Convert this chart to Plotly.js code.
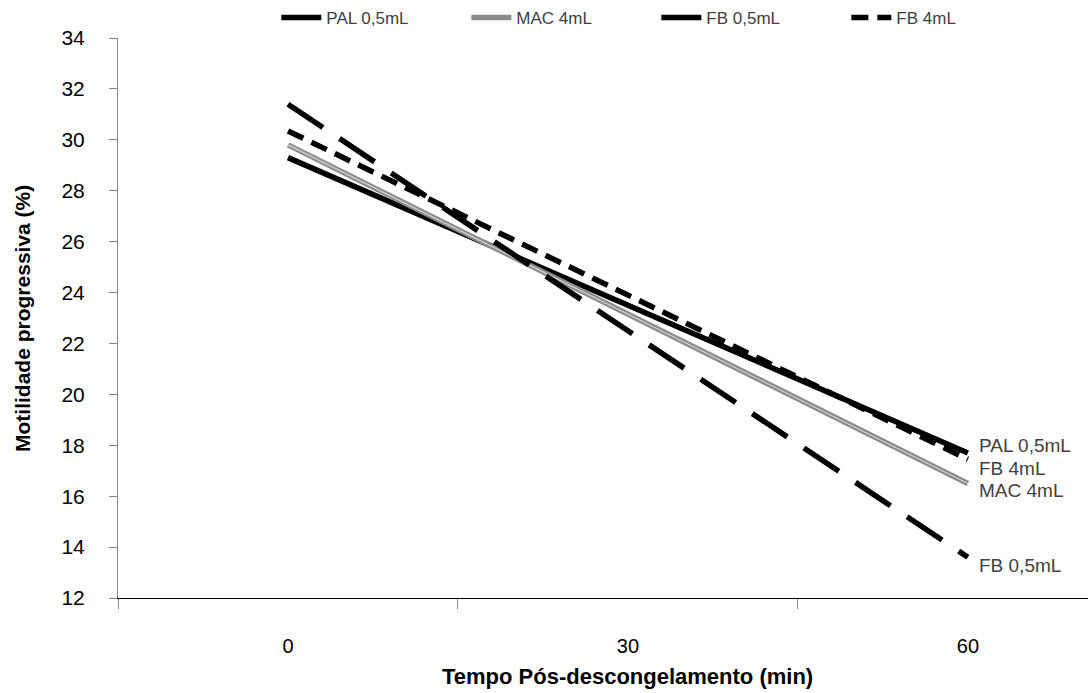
<!DOCTYPE html>
<html>
<head>
<meta charset="utf-8">
<script src="https://cdn.plot.ly/plotly-3.0.1.min.js"></script>
<style>html,body{margin:0;padding:0;background:#fff;}#chart{width:1088px;height:693px;}</style>
</head>
<body>
<div id="chart"></div>
<script>
const times = [0, 60];
const tickLabels = ['0', '30', '60'];
const tickPositions = [0, 30, 60];
const seriesNames = ['PAL 0,5mL', 'MAC 4mL', 'FB 0,5mL', 'FB 4mL'];
const palValues = [29.3, 17.7];
const macValues = [29.8, 16.5];
const fb05Values = [31.4, 13.6];
const fb4Values = [30.35, 17.45];
const labelShifts = [7, -7, -8, -9];

const FONT = 'Liberation Sans, Arial, sans-serif';
const traces = [
  {x: times, y: palValues, name: seriesNames[0], mode: 'lines',
   line: {color: '#000000', width: 5.5}},
  {x: times, y: macValues, name: seriesNames[1], mode: 'lines',
   line: {color: '#8c8c8c', width: 5.5}},
  {x: times, y: fb05Values, name: seriesNames[2], mode: 'lines',
   line: {color: '#000000', width: 5.5, dash: '42px,20px'}},
  {x: times, y: fb4Values, name: seriesNames[3], mode: 'lines',
   line: {color: '#000000', width: 5.5, dash: '17px,9px'}}
];
// thin light stripe inside MAC line to mimic the striped grey look
traces.splice(2, 0, {x: times, y: macValues, mode: 'lines', showlegend: false, hoverinfo: 'skip',
  line: {color: '#d0d0d0', width: 1.2}});

const endValues = [palValues[1], macValues[1], fb05Values[1], fb4Values[1]];
const annotations = seriesNames.map((n, i) => ({
  x: times[1], y: endValues[i], xref: 'x', yref: 'y', text: n, showarrow: false,
  xanchor: 'left', yanchor: 'middle', xshift: 9, yshift: labelShifts[i],
  font: {family: FONT, size: 19, color: '#404040'}
}));
annotations.push({
  x: -0.099, y: 0.5, xref: 'paper', yref: 'paper', text: '<b>Motilidade progressiva (%)</b>',
  textangle: -90, showarrow: false, xanchor: 'center', yanchor: 'middle',
  font: {family: FONT, size: 21, color: '#000'}
});
annotations.push({
  x: 30, y: -0.141, xref: 'x', yref: 'paper', text: '<b>Tempo Pós-descongelamento (min)</b>',
  showarrow: false, xanchor: 'center', yanchor: 'middle',
  font: {family: FONT, size: 22, color: '#000'}
});

const xr = [-15, 70.6];
const layout = {
  width: 1088, height: 693,
  margin: {l: 118, r: 0, t: 38, b: 95},
  paper_bgcolor: '#fff', plot_bgcolor: '#fff',
  showlegend: true,
  legend: {orientation: 'h', x: 0.555, xanchor: 'center', y: 1.036, yanchor: 'middle',
    font: {family: FONT, size: 17, color: '#404040'},
    entrywidth: 135, entrywidthmode: 'pixels', itemwidth: 40, tracegroupgap: 0},
  xaxis: {range: xr, tickvals: tickPositions, ticktext: tickLabels, ticks: '',
    showgrid: false, zeroline: false, showline: true, linecolor: '#000', linewidth: 1,
    ticklabelstandoff: 30,
    tickfont: {family: FONT, size: 20, color: '#000'}},
  xaxis2: {range: xr, overlaying: 'x', anchor: 'y', side: 'bottom',
    tickvals: [-15, 15, 45], ticks: 'outside', ticklen: 10, tickcolor: '#868686',
    showticklabels: false, showgrid: false, zeroline: false, showline: false},
  yaxis: {range: [12, 34], dtick: 2, ticks: 'outside', ticklen: 8, tickcolor: '#868686',
    showgrid: false, zeroline: false, showline: true, linecolor: '#868686', linewidth: 1,
    ticklabelstandoff: 20,
    tickfont: {family: FONT, size: 21, color: '#000'}},
  annotations: annotations
};
traces.push({x: xr, y: [12, 12], xaxis: 'x2', yaxis: 'y', mode: 'lines', showlegend: false,
  hoverinfo: 'skip', line: {color: 'rgba(0,0,0,0)', width: 0}});

Plotly.newPlot('chart', traces, layout, {staticPlot: true});
</script>
</body>
</html>
